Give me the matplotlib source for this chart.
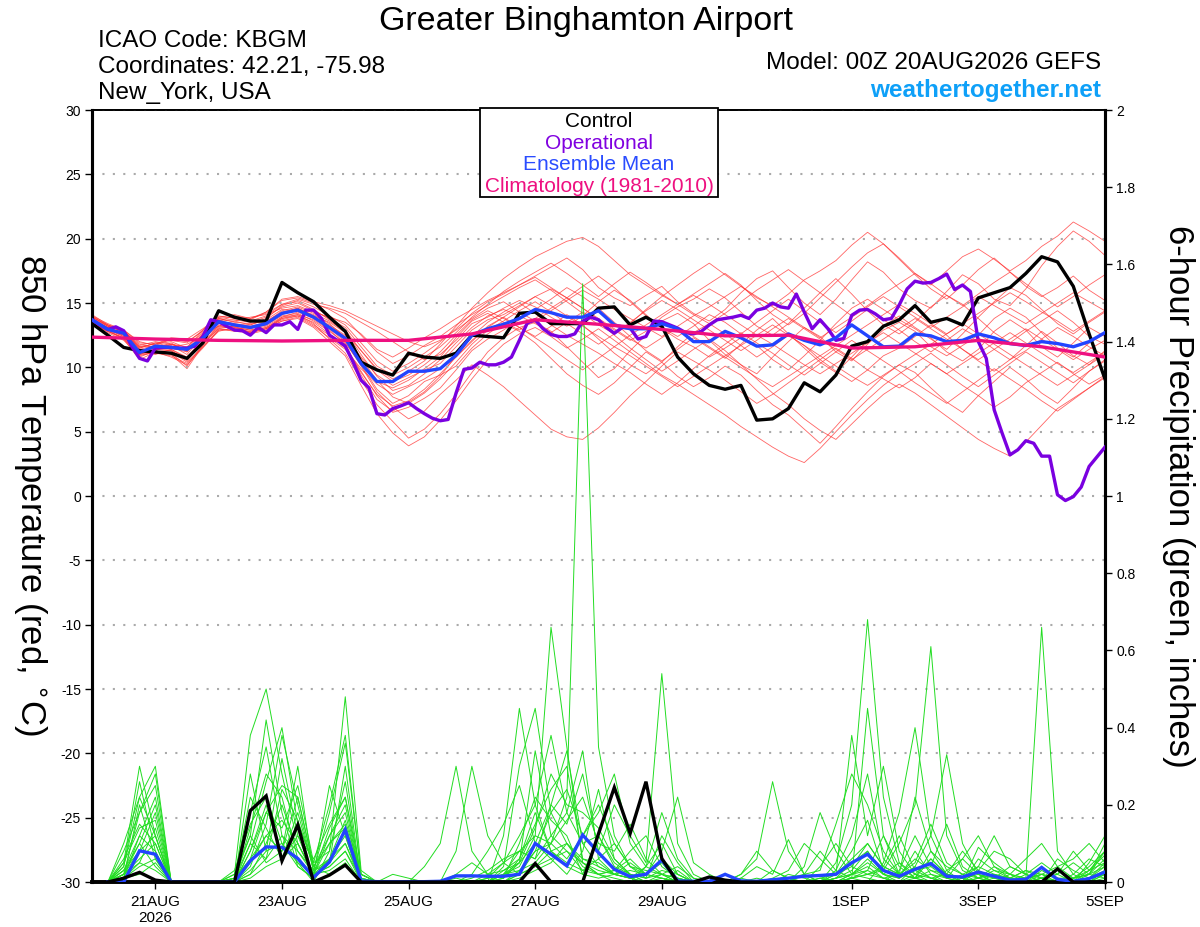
import numpy as np
import matplotlib
matplotlib.use("Agg")
import matplotlib.pyplot as plt
from matplotlib.patches import Rectangle

plt.rcParams['font.family'] = ['Liberation Sans', 'DejaVu Sans']
plt.rcParams['axes.unicode_minus'] = False

# forecast hours counted from 00Z 20AUG2026
hours_6h = np.arange(0, 385, 6)
hours_3h = np.arange(0, 385, 3)
precip_hours = np.arange(6, 385, 6)
clim_hours = np.arange(0, 385, 24)

tick_hours = [24, 72, 120, 168, 216, 288, 336, 384]
tick_labels = ['21AUG\n2026', '23AUG', '25AUG', '27AUG', '29AUG', '1SEP', '3SEP', '5SEP']

# 850 hPa temperature (C)
control_t = [13.4, 12.5, 11.55, 11.3, 11.2, 11.1, 10.7, 11.9, 14.4, 13.9, 13.6, 13.6, 16.6,
             15.8, 15.1, 13.9, 12.8, 10.4, 9.8, 9.4, 11.1, 10.8, 10.7, 11.1, 12.5, 12.4,
             12.3, 14.2, 14.3, 13.4, 13.4, 13.4, 14.6, 14.7, 13.3, 13.9, 13.2, 10.8, 9.5,
             8.6, 8.3, 8.6, 5.9, 6.0, 6.8, 8.8, 8.1, 9.4, 11.65, 12.0, 13.2, 13.7,
             14.8, 13.5, 13.8, 13.3, 15.4, 15.8, 16.2, 17.3, 18.6, 18.2, 16.3, 12.6, 9.1]

operational_t = [13.7, 13.3, 12.95, 13.15, 12.85, 11.65, 10.7, 10.5, 11.5, 11.55, 11.55, 11.5, 11.5,
                 11.65, 12.4, 13.7, 13.55, 13.2, 12.9, 12.85, 12.5, 13.1, 12.7, 13.3, 13.3, 13.55,
                 12.95, 14.45, 14.45, 13.8, 12.5, 12.1, 11.65, 10.4, 9.0, 8.4, 6.4, 6.3, 6.8,
                 7.0, 7.25, 6.8, 6.4, 6.05, 5.85,
                 5.95, 8.0, 9.85, 9.95, 10.4, 10.2, 10.2, 10.4, 10.8, 12.1, 13.45, 13.7, 13.0,
                 12.55, 12.4, 12.4, 12.6, 13.6, 13.9, 13.7, 13.1, 12.65, 13.1, 13.05, 12.2, 12.4,
                 13.6, 13.55, 13.3, 13.05, 12.7, 12.6, 12.8, 13.3, 13.7, 13.8, 13.9, 14.05, 13.8,
                 14.45, 14.6, 15.0,
                 14.7, 14.6, 15.7, 14.3, 13.0, 13.7, 13.0, 12.1, 12.25, 14.05, 14.45, 14.5, 14.15,
                 13.7, 13.8, 14.85, 16.1, 16.7, 16.55, 16.6, 16.9, 17.25, 16.05, 16.4, 15.9, 12.0,
                 10.7, 6.7, 4.9, 3.2, 3.6, 4.3, 4.1, 3.1, 3.1, 0.1, -0.35, -0.05, 0.7,
                 2.3, 3.05, 3.8]

ens_mean_t = [13.7, 12.95, 12.65, 11.15, 11.65, 11.55, 11.4, 12.25, 13.55, 13.3, 13.1, 13.4, 14.2,
              14.45, 13.9, 13.1, 12.25, 10.3, 8.9, 8.9, 9.7, 9.7, 9.9, 10.95, 12.5, 13.0,
              13.35, 13.8, 14.5, 14.25, 13.9, 13.9, 14.4, 13.3, 13.0, 13.0, 13.4, 13.0, 12.0,
              12.0, 12.8, 12.3, 11.65, 11.75, 12.6, 12.1, 11.75, 12.3, 13.3, 12.45, 11.6, 11.65,
              12.6, 12.45, 12.0, 12.1, 12.6, 12.3, 11.85, 11.7, 12.0, 11.85, 11.6, 12.0, 12.7]

clim_t = [12.35, 12.2, 12.1, 12.05, 12.1, 12.1, 12.6, 13.7, 13.35,
          12.95, 12.45, 12.5, 11.5, 11.6, 12.1, 11.6, 10.8]

members_t = [
    [13.9, 13.2, 12.8, 11.8, 11.5, 11.9, 11.2, 12.6, 13.2, 13.6, 13.9, 14.1, 14.6,
     14.8, 14.3, 13.9, 13.5, 12.6, 11.4, 10.8, 11.5, 12.3, 13.0, 13.8, 14.5, 15.2,
     15.8, 16.4, 17.1, 17.8, 18.5, 17.6, 16.2, 15.4, 14.8, 15.6, 16.3, 15.1, 14.2,
     13.6, 14.5, 15.8, 16.9, 17.5, 16.2, 15.0, 14.1, 15.3, 16.8, 18.2, 17.4, 16.1,
     15.2, 14.6, 15.9, 17.2, 16.5, 15.3, 14.8, 16.1, 17.9, 19.4, 20.6, 19.8, 18.7],
    [13.6, 12.7, 12.1, 10.9, 11.2, 10.8, 10.2, 11.5, 12.9, 13.0, 12.6, 12.9, 13.8,
     14.1, 13.4, 12.2, 11.1, 9.0, 7.1, 5.8, 4.5, 5.2, 6.4, 7.9, 9.6, 11.2,
     12.3, 13.1, 13.5, 12.8, 11.6, 10.4, 9.2, 9.9, 11.3, 12.5, 13.6, 14.2, 13.4,
     12.1, 11.0, 10.2, 9.5, 10.8, 12.0, 13.1, 12.4, 11.2, 10.5, 11.8, 12.9, 13.5,
     12.8, 11.6, 10.9, 11.7, 12.5, 13.8, 14.6, 13.9, 12.7, 11.5, 10.8, 11.9, 12.6],
    [14.0, 13.4, 12.9, 12.0, 11.7, 12.2, 12.0, 12.8, 13.6, 14.0, 13.8, 14.2, 14.9,
     15.3, 14.9, 14.6, 14.2, 13.5, 12.8, 12.0, 11.2, 10.6, 11.0, 12.1, 13.4, 13.9,
     14.6, 15.2, 14.7, 13.9, 13.2, 14.0, 15.1, 16.0, 15.2, 14.1, 13.0, 12.2, 11.6,
     10.8, 11.5, 12.3, 11.7, 10.6, 9.8, 10.9, 12.1, 13.4, 14.6, 15.3, 14.5, 13.7,
     13.0, 12.2, 11.4, 12.6, 13.9, 15.1, 16.2, 15.6, 14.5, 13.4, 12.6, 13.5, 14.3],
    [13.5, 12.9, 12.4, 11.3, 11.0, 11.4, 10.7, 11.9, 13.0, 13.2, 13.0, 13.3, 14.0,
     14.2, 13.6, 12.8, 11.9, 10.2, 8.3, 7.2, 7.8, 8.9, 9.4, 10.1, 11.5, 12.6,
     13.4, 12.8, 11.9, 10.7, 9.5, 8.6, 7.9, 8.8, 10.0, 11.2, 10.4, 9.3, 8.5,
     9.2, 10.1, 9.4, 8.2, 7.1, 6.3, 5.2, 4.1, 5.4, 6.8, 8.1, 9.3, 10.2,
     9.6, 8.4, 7.3, 6.5, 7.8, 8.9, 10.0, 9.1, 8.0, 7.2, 8.4, 9.7, 10.5],
    [13.8, 13.0, 12.6, 11.5, 11.9, 11.6, 11.8, 12.4, 13.8, 13.5, 13.4, 13.6, 14.3,
     14.6, 14.0, 13.2, 12.4, 10.8, 9.4, 8.6, 9.2, 9.8, 10.3, 11.6, 12.9, 13.7,
     14.1, 14.8, 15.5, 16.1, 15.4, 14.6, 13.7, 12.9, 12.1, 12.8, 13.9, 14.7, 15.3,
     16.1, 15.4, 14.3, 13.2, 12.5, 13.4, 14.6, 15.8, 16.9, 15.7, 14.4, 13.3, 12.6,
     13.5, 14.7, 15.6, 14.9, 13.8, 12.7, 11.9, 12.8, 13.6, 14.4, 13.5, 12.4, 11.8],
    [13.4, 12.8, 12.3, 10.8, 11.3, 11.0, 9.9, 11.7, 13.3, 12.9, 12.8, 13.1, 13.7,
     14.0, 13.5, 12.6, 11.6, 9.7, 7.8, 6.5, 6.9, 7.6, 8.4, 9.8, 11.3, 12.2,
     12.9, 13.7, 14.5, 15.3, 16.2, 15.5, 14.6, 13.5, 12.4, 11.3, 10.5, 11.4, 12.3,
     11.5, 10.7, 11.8, 12.9, 13.8, 12.6, 11.5, 10.4, 9.6, 10.8, 12.1, 13.2, 14.0,
     13.1, 12.3, 11.2, 10.5, 11.4, 12.8, 13.7, 12.9, 11.6, 10.8, 11.9, 13.1, 12.4],
    [14.1, 13.3, 12.7, 11.6, 11.8, 12.0, 11.5, 12.9, 14.0, 13.8, 13.6, 14.0, 14.9,
     15.1, 14.5, 13.7, 12.9, 11.3, 9.9, 9.1, 9.7, 10.5, 11.8, 13.2, 14.6, 15.8,
     16.9, 17.8, 18.6, 19.2, 19.8, 20.1, 19.4, 18.3, 17.2, 16.4, 15.6, 14.9, 15.7,
     16.5, 17.3, 16.4, 15.2, 14.1, 13.3, 14.2, 15.4, 16.6, 17.8, 18.9, 19.6, 18.4,
     17.2, 16.1, 15.3, 16.4, 17.6, 18.5, 17.4, 16.3, 15.5, 16.2, 17.1, 16.0, 15.2],
    [13.6, 12.9, 12.5, 11.0, 11.4, 11.3, 10.6, 12.1, 13.4, 13.1, 12.9, 13.2, 13.9,
     14.3, 13.8, 13.0, 12.0, 10.1, 8.1, 6.9, 6.0, 6.6, 7.9, 9.0, 10.2, 9.4,
     8.5, 7.4, 6.3, 5.2, 4.6, 4.4, 5.3, 6.5, 7.8, 8.9, 10.1, 11.2, 10.5,
     9.8, 9.0, 8.1, 7.2, 7.9, 8.8, 9.7, 10.6, 11.5, 10.7, 9.8, 9.1, 8.4,
     9.2, 10.3, 9.5, 8.6, 7.8, 6.9, 7.7, 8.8, 9.6, 10.4, 9.5, 8.7, 9.4],
    [13.7, 13.1, 12.7, 11.4, 11.7, 11.5, 11.2, 12.3, 13.5, 13.4, 13.2, 13.5, 14.4,
     14.7, 14.2, 13.6, 12.8, 11.0, 9.3, 8.2, 8.6, 9.5, 10.6, 11.9, 13.1, 14.0,
     14.5, 14.0, 13.4, 12.7, 13.5, 14.3, 13.6, 12.5, 11.5, 10.6, 9.7, 10.5, 11.4,
     12.2, 11.3, 10.2, 9.1, 8.0, 7.1, 6.0, 5.1, 4.4, 5.6, 6.8, 7.9, 8.7,
     8.0, 7.1, 6.2, 5.3, 4.4, 3.7, 3.1, 4.2, 5.5, 6.8, 7.6, 8.4, 9.3],
    [13.9, 13.3, 12.9, 11.9, 11.8, 12.3, 12.2, 13.0, 13.9, 14.1, 13.8, 14.3, 15.2,
     15.4, 15.0, 14.5, 13.8, 12.5, 11.2, 10.3, 10.9, 11.7, 12.4, 13.3, 14.1, 14.8,
     15.5, 16.2, 16.8, 16.0, 15.1, 14.2, 13.3, 12.6, 13.4, 14.5, 15.5, 16.4, 17.3,
     18.1, 17.2, 16.3, 15.4, 14.8, 15.7, 16.8, 17.5, 18.3, 19.5, 20.5, 19.6, 18.5,
     17.3, 16.4, 17.5, 18.6, 19.2, 18.4, 17.5, 18.3, 19.4, 20.2, 21.3, 20.6, 19.8],
    [13.5, 12.8, 12.3, 11.1, 11.1, 11.2, 10.4, 11.6, 12.8, 13.1, 12.9, 13.0, 13.6,
     13.9, 13.2, 12.3, 11.4, 9.9, 8.7, 7.9, 8.5, 9.1, 9.9, 10.8, 12.0, 13.2,
     13.9, 13.1, 12.4, 13.2, 14.1, 13.3, 12.2, 11.1, 10.2, 9.5, 10.4, 11.6, 12.7,
     13.4, 12.6, 11.7, 10.8, 11.6, 12.5, 11.7, 10.6, 9.7, 8.9, 9.8, 10.9, 11.5,
     12.4, 13.3, 12.5, 11.4, 10.5, 9.7, 10.6, 11.7, 12.8, 11.9, 10.9, 10.2, 11.3],
    [13.8, 13.1, 12.6, 11.2, 11.6, 11.7, 11.0, 12.5, 13.7, 13.3, 13.3, 13.7, 14.5,
     14.4, 13.9, 13.3, 12.5, 10.5, 8.9, 8.4, 9.0, 9.9, 10.8, 12.3, 13.6, 14.2,
     13.5, 12.9, 13.8, 14.6, 15.4, 16.3, 17.1, 16.2, 15.1, 14.0, 13.1, 12.4, 13.2,
     14.1, 13.5, 12.6, 13.5, 14.4, 15.3, 14.4, 13.5, 12.7, 13.6, 14.5, 13.7, 12.9,
     12.0, 11.2, 12.1, 13.0, 12.3, 11.4, 10.6, 11.3, 12.2, 13.1, 12.4, 11.6, 10.9],
    [13.6, 13.0, 12.4, 11.2, 11.4, 11.3, 10.5, 12.0, 13.1, 13.2, 12.7, 13.0, 13.6,
     13.8, 13.1, 12.0, 10.9, 8.6, 6.4, 4.9, 3.9, 4.6, 5.9, 7.4, 9.1, 10.6,
     11.8, 12.6, 13.1, 12.4, 11.5, 12.2, 13.0, 12.1, 11.2, 10.3, 9.4, 8.7, 7.9,
     7.1, 6.3, 5.4, 4.6, 3.8, 3.1, 2.6, 3.7, 5.0, 6.3, 7.5, 8.6, 9.5,
     10.3, 11.1, 10.2, 9.3, 8.5, 9.4, 10.3, 11.2, 10.4, 9.6, 8.8, 9.7, 10.6],
    [14.0, 13.2, 12.8, 11.7, 12.0, 11.8, 11.6, 12.7, 13.8, 13.7, 13.5, 13.9, 14.7,
     15.0, 14.4, 13.8, 13.1, 11.6, 10.1, 9.4, 10.0, 10.8, 11.6, 12.7, 13.9, 14.9,
     15.9, 16.7, 17.4, 18.1, 17.3, 16.4, 15.5, 16.5, 17.4, 16.6, 15.7, 14.9, 14.1,
     13.4, 14.2, 15.1, 16.0, 16.8, 17.6, 16.7, 15.8, 14.9, 14.0, 14.8, 15.7, 16.5,
     17.3, 16.5, 15.6, 14.8, 15.7, 16.6, 17.4, 16.5, 15.6, 14.7, 15.5, 16.4, 17.2],
    [13.5, 12.8, 12.2, 10.6, 11.2, 11.1, 10.1, 11.8, 13.0, 12.8, 12.7, 13.0, 13.9,
     14.1, 13.7, 12.9, 11.8, 9.4, 7.5, 6.6, 7.3, 8.1, 9.3, 10.9, 12.4, 13.5,
     14.3, 15.0, 14.2, 13.3, 12.5, 11.8, 11.1, 10.3, 9.6, 8.7, 7.9, 8.8, 9.9,
     10.9, 11.8, 12.7, 11.9, 11.1, 10.2, 9.4, 10.3, 11.2, 12.1, 11.3, 10.5, 9.7,
     8.8, 8.0, 7.2, 8.1, 9.0, 9.9, 9.1, 8.3, 7.4, 6.6, 7.5, 8.4, 9.2],
    [13.9, 13.3, 12.9, 11.5, 11.9, 12.1, 11.9, 12.9, 13.9, 13.9, 13.7, 14.3, 15.3,
     15.5, 15.1, 14.8, 14.4, 13.8, 13.2, 12.6, 12.0, 11.6, 12.1, 12.9, 13.8, 14.6,
     15.1, 14.3, 13.6, 14.4, 15.2, 16.0, 15.3, 14.5, 13.8, 13.1, 12.4, 13.2, 14.0,
     14.7, 15.5, 16.3, 15.5, 14.7, 13.9, 13.1, 12.3, 13.1, 13.9, 14.7, 15.5, 14.7,
     13.9, 13.1, 13.9, 14.7, 15.5, 14.8, 14.1, 13.4, 14.2, 15.0, 15.8, 15.1, 14.4],
    [13.7, 13.0, 12.5, 11.0, 11.5, 11.4, 10.8, 12.2, 13.2, 13.0, 13.1, 13.4, 14.1,
     14.5, 14.1, 13.4, 12.3, 10.7, 9.0, 7.7, 7.2, 8.0, 9.1, 10.4, 11.8, 12.9,
     13.6, 14.4, 15.1, 14.3, 13.4, 12.6, 11.8, 12.6, 13.5, 14.4, 15.2, 14.5, 13.7,
     12.9, 12.1, 11.3, 12.1, 13.0, 13.8, 13.0, 12.2, 11.4, 10.6, 11.4, 12.2, 13.0,
     13.8, 13.0, 12.2, 11.4, 10.6, 11.4, 12.2, 13.0, 12.2, 11.4, 10.6, 11.4, 12.1],
    [13.6, 13.0, 12.7, 11.4, 11.3, 11.8, 11.3, 12.4, 13.5, 13.3, 13.1, 13.3, 14.2,
     14.6, 14.0, 13.5, 12.7, 11.3, 9.8, 8.9, 9.4, 10.2, 11.2, 12.5, 13.7, 14.4,
     13.8, 13.1, 12.3, 11.5, 10.6, 9.8, 10.7, 11.6, 12.5, 13.3, 14.1, 14.9, 15.6,
     14.9, 14.1, 13.3, 12.5, 11.8, 11.0, 10.2, 9.5, 10.3, 11.1, 11.9, 12.7, 11.9,
     11.1, 10.3, 9.5, 10.3, 11.1, 11.9, 12.7, 11.9, 11.1, 10.3, 9.6, 10.4, 11.2],
    [13.8, 13.2, 12.8, 11.6, 11.6, 11.8, 11.4, 12.6, 13.7, 13.6, 13.3, 13.8, 14.8,
     15.2, 14.7, 14.0, 13.3, 11.9, 10.5, 9.7, 10.3, 11.1, 12.0, 13.0, 14.2, 15.1,
     15.7, 16.4, 17.0, 16.2, 15.4, 14.6, 13.8, 13.0, 12.2, 11.5, 12.3, 13.1, 12.4,
     11.6, 10.8, 10.0, 9.2, 8.5, 9.3, 10.1, 10.9, 11.7, 12.5, 13.3, 14.1, 14.9,
     14.2, 13.4, 12.6, 13.4, 14.2, 15.0, 15.8, 15.1, 14.3, 13.6, 12.8, 13.6, 14.4],
    [13.5, 12.9, 12.2, 11.0, 11.1, 10.9, 10.3, 11.6, 12.9, 12.9, 12.8, 13.1, 13.8,
     14.0, 13.3, 12.5, 11.5, 9.6, 7.9, 7.0, 7.4, 8.3, 9.5, 10.8, 12.1, 13.1,
     13.9, 14.7, 15.5, 14.8, 14.0, 13.2, 12.4, 11.6, 10.9, 10.1, 9.3, 8.5, 9.3,
     10.1, 10.9, 11.7, 12.5, 13.3, 12.5, 11.7, 10.9, 10.1, 9.3, 8.6, 9.4, 10.2,
     11.0, 11.8, 12.6, 13.4, 12.6, 11.8, 11.0, 10.2, 9.4, 8.6, 9.4, 10.2, 11.0],
]

# 6-hour precipitation (inches), periods ending 06Z 20AUG .. 00Z 5SEP
control_p = [0, 0.01, 0.025, 0.005, 0, 0, 0, 0, 0, 0.185, 0.223, 0.055, 0.148, 0, 0.018, 0.044,
             0, 0, 0, 0, 0, 0, 0, 0, 0, 0, 0, 0.048, 0, 0, 0, 0.125,
             0.245, 0.126, 0.26, 0.061, 0, 0, 0.013, 0.005, 0, 0, 0, 0, 0, 0, 0, 0,
             0, 0, 0, 0, 0, 0, 0, 0, 0, 0, 0, 0, 0.034, 0, 0, 0]

ens_mean_p = [0, 0, 0.081, 0.072, 0, 0, 0, 0, 0, 0.055, 0.091, 0.09, 0.061, 0.012, 0.052, 0.136,
              0.003, 0.001, 0.001, 0.001, 0.001, 0.002, 0.016, 0.016, 0.015, 0.015, 0.02, 0.1, 0.072, 0.042, 0.122, 0.076,
              0.033, 0.014, 0.02, 0.057, 0.003, 0.002, 0.002, 0.02, 0.003, 0.002, 0.006, 0.01, 0.015, 0.017, 0.02, 0.05,
              0.072, 0.03, 0.015, 0.033, 0.048, 0.015, 0.013, 0.026, 0.015, 0.005, 0.007, 0.038, 0.007, 0.002, 0.009, 0.026]

members_p = [
    [0, 0.05, 0.30, 0.12, 0, 0, 0, 0, 0, 0.18, 0.35, 0.12, 0.05, 0, 0.08, 0.48,
     0.03, 0, 0, 0, 0, 0, 0.01, 0, 0, 0.02, 0.08, 0.12, 0.66, 0.35, 0.05, 0.02,
     0, 0, 0.04, 0.10, 0.02, 0, 0, 0, 0, 0, 0.03, 0.01, 0, 0, 0.05, 0.20,
     0.68, 0.22, 0.05, 0.02, 0, 0, 0, 0.01, 0.04, 0.02, 0, 0, 0, 0, 0.05, 0.12],
    [0, 0.10, 0.22, 0.30, 0, 0, 0, 0, 0.02, 0.38, 0.50, 0.28, 0.10, 0.02, 0.12, 0.20,
     0, 0, 0, 0, 0, 0, 0, 0, 0, 0, 0.03, 0.05, 0.10, 0.22, 1.55, 0.35,
     0.12, 0.04, 0.02, 0.05, 0, 0, 0, 0, 0, 0, 0, 0, 0.02, 0.08, 0.03, 0.01,
     0, 0.05, 0.18, 0.40, 0.12, 0.03, 0, 0, 0, 0, 0, 0.02, 0, 0, 0, 0.02],
    [0, 0.02, 0.18, 0.25, 0, 0, 0, 0, 0, 0.10, 0.26, 0.40, 0.15, 0.05, 0.20, 0.38,
     0.02, 0, 0, 0, 0.04, 0.10, 0.30, 0.08, 0.02, 0.01, 0.05, 0.34, 0.12, 0.08, 0.03, 0.06,
     0.10, 0.04, 0.01, 0.02, 0, 0, 0, 0, 0.02, 0.06, 0.26, 0.08, 0.02, 0, 0.01, 0.03,
     0.08, 0.02, 0, 0.04, 0.12, 0.33, 0.10, 0.02, 0, 0, 0, 0.01, 0, 0.02, 0.06, 0.04],
    [0, 0.04, 0.26, 0.08, 0, 0, 0, 0, 0.01, 0.22, 0.14, 0.06, 0.18, 0.03, 0.05, 0.30,
     0, 0, 0, 0, 0, 0, 0, 0, 0, 0.02, 0.05, 0.10, 0.20, 0.15, 0.28, 0.08,
     0.20, 0.12, 0.05, 0.54, 0.10, 0.02, 0, 0, 0, 0, 0, 0, 0, 0, 0.02, 0.06,
     0.10, 0.04, 0.02, 0.01, 0.06, 0.02, 0, 0.09, 0.05, 0.02, 0.01, 0.66, 0.08, 0.02, 0, 0.03],
    [0, 0.01, 0.12, 0.22, 0, 0, 0, 0, 0, 0.08, 0.18, 0.25, 0.22, 0.04, 0.10, 0.15,
     0.01, 0, 0.02, 0.01, 0, 0, 0, 0, 0, 0.04, 0.30, 0.45, 0.18, 0.10, 0.05, 0.02,
     0.03, 0.08, 0.12, 0.04, 0.01, 0, 0, 0.02, 0, 0, 0, 0, 0, 0.04, 0.10, 0.04,
     0.02, 0.03, 0.10, 0.20, 0.61, 0.12, 0.03, 0.01, 0, 0.01, 0.03, 0.01, 0, 0, 0.02, 0.10],
    [0, 0.03, 0.08, 0.18, 0, 0, 0, 0, 0.03, 0.15, 0.22, 0.10, 0.05, 0.02, 0.25, 0.12,
     0, 0, 0, 0, 0, 0, 0, 0, 0.01, 0.05, 0.12, 0.20, 0.38, 0.18, 0.10, 0.12,
     0.05, 0.02, 0.01, 0.12, 0.05, 0, 0, 0, 0.01, 0, 0, 0, 0, 0, 0, 0.02,
     0.06, 0.02, 0.01, 0.08, 0.02, 0, 0, 0.03, 0.08, 0.06, 0.02, 0.01, 0.02, 0.08, 0.03, 0.05],
    [0, 0.06, 0.15, 0.10, 0, 0, 0, 0, 0, 0.28, 0.08, 0.32, 0.12, 0.06, 0.15, 0.22,
     0.02, 0, 0, 0, 0, 0, 0, 0.02, 0.08, 0.15, 0.25, 0.10, 0.06, 0.02, 0.08, 0.24,
     0.06, 0.02, 0, 0, 0, 0, 0, 0, 0.01, 0.04, 0.02, 0.11, 0.02, 0, 0, 0.01,
     0.45, 0.12, 0.02, 0.01, 0, 0.03, 0.06, 0.02, 0, 0, 0.02, 0.05, 0.02, 0, 0.03, 0.08],
    [0, 0.02, 0.05, 0.14, 0, 0, 0, 0, 0, 0.05, 0.12, 0.08, 0.30, 0.02, 0.04, 0.08,
     0, 0, 0, 0, 0, 0, 0, 0, 0, 0.12, 0.45, 0.20, 0.08, 0.10, 0.04, 0.02,
     0.03, 0.06, 0.02, 0.08, 0.22, 0.05, 0.02, 0, 0, 0, 0, 0, 0.04, 0.18, 0.08, 0.02,
     0.01, 0, 0.03, 0.12, 0.04, 0.01, 0.06, 0.12, 0.04, 0.01, 0, 0, 0, 0, 0.01, 0.05],
    [0, 0.01, 0.20, 0.06, 0, 0, 0, 0, 0.02, 0.12, 0.42, 0.18, 0.04, 0.01, 0.06, 0.10,
     0.01, 0, 0, 0, 0, 0, 0, 0, 0.02, 0.03, 0.06, 0.15, 0.24, 0.30, 0.06, 0.05,
     0.02, 0.01, 0, 0, 0.03, 0, 0, 0, 0, 0, 0.01, 0.03, 0.10, 0.06, 0.02, 0.38,
     0.12, 0.30, 0.08, 0.02, 0.01, 0, 0.01, 0.04, 0.12, 0.04, 0.02, 0, 0, 0.01, 0.04, 0.08],
    [0, 0.08, 0.18, 0.28, 0, 0, 0, 0, 0, 0.02, 0.10, 0.20, 0.08, 0.03, 0.18, 0.36,
     0.02, 0, 0, 0, 0, 0, 0.02, 0.05, 0.02, 0.05, 0.08, 0.06, 0.20, 0.34, 0.10, 0.04,
     0.02, 0.03, 0.02, 0.01, 0, 0, 0, 0, 0, 0, 0, 0.01, 0.02, 0.03, 0.15, 0.28,
     0.20, 0.08, 0.02, 0.01, 0.03, 0.02, 0.01, 0, 0, 0.02, 0.06, 0.10, 0.04, 0.01, 0.02, 0.04],
    [0, 0.03, 0.10, 0.20, 0, 0, 0, 0, 0.01, 0.06, 0.18, 0.14, 0.25, 0.05, 0.08, 0.26,
     0, 0, 0, 0, 0, 0, 0, 0, 0, 0, 0.02, 0.08, 0.18, 0.24, 0.12, 0.18,
     0.28, 0.10, 0.04, 0.02, 0, 0, 0, 0, 0.02, 0.08, 0.03, 0.01, 0, 0, 0.01, 0.02,
     0.03, 0.12, 0.04, 0.01, 0.08, 0.04, 0.02, 0.01, 0.03, 0.02, 0.01, 0.02, 0.04, 0.06, 0.10, 0.05],
    [0, 0.05, 0.14, 0.16, 0, 0, 0, 0, 0.01, 0.10, 0.06, 0.24, 0.16, 0.04, 0.12, 0.18,
     0, 0, 0, 0, 0, 0, 0, 0, 0, 0.02, 0.04, 0.12, 0.10, 0.16, 0.22, 0.10,
     0.08, 0.15, 0.06, 0.02, 0.01, 0, 0, 0, 0, 0, 0, 0, 0, 0, 0.03, 0.12,
     0.28, 0.06, 0.02, 0.05, 0.15, 0.05, 0.02, 0, 0.01, 0.04, 0.02, 0, 0.01, 0.01, 0.02, 0.08],
    [0, 0.02, 0.06, 0.10, 0, 0, 0, 0, 0, 0.14, 0.28, 0.22, 0.06, 0.02, 0.10, 0.14,
     0, 0, 0, 0, 0, 0, 0, 0, 0, 0.01, 0.10, 0.22, 0.16, 0.12, 0.02, 0.01,
     0.02, 0.01, 0.04, 0.18, 0.06, 0.01, 0, 0, 0, 0, 0, 0, 0, 0, 0, 0.02,
     0.04, 0.01, 0.02, 0.22, 0.08, 0.02, 0.01, 0.02, 0.01, 0, 0, 0.03, 0.01, 0, 0.01, 0.03],
    [0, 0.04, 0.22, 0.12, 0, 0, 0, 0, 0, 0.04, 0.15, 0.38, 0.20, 0.03, 0.06, 0.12,
     0, 0, 0, 0, 0, 0, 0, 0, 0, 0.03, 0.05, 0.14, 0.28, 0.20, 0.18, 0.14,
     0.06, 0.02, 0.01, 0.03, 0.02, 0, 0, 0, 0, 0, 0, 0, 0, 0.01, 0.02, 0.08,
     0.16, 0.03, 0.01, 0.03, 0.04, 0.15, 0.04, 0.01, 0, 0.01, 0.01, 0.02, 0.01, 0, 0, 0.02],
    [0, 0.03, 0.12, 0.08, 0, 0, 0, 0, 0, 0.08, 0.20, 0.06, 0.12, 0.02, 0.14, 0.22,
     0, 0, 0, 0, 0, 0, 0, 0.01, 0.03, 0.06, 0.08, 0.06, 0.12, 0.18, 0.34, 0.06,
     0.02, 0.01, 0.02, 0.06, 0.02, 0, 0, 0, 0, 0, 0, 0.02, 0.01, 0, 0.02, 0.04,
     0.10, 0.04, 0.02, 0.06, 0.03, 0.01, 0, 0.06, 0.03, 0.01, 0, 0.01, 0.03, 0.01, 0.02, 0.06],
    [0, 0.02, 0.08, 0.12, 0, 0, 0, 0, 0, 0.06, 0.12, 0.16, 0.10, 0.02, 0.03, 0.06,
     0, 0, 0, 0, 0, 0, 0, 0, 0.01, 0.02, 0.03, 0.08, 0.10, 0.06, 0.12, 0.20,
     0.10, 0.04, 0.03, 0.02, 0.04, 0.01, 0, 0, 0, 0.01, 0, 0, 0, 0.01, 0, 0.01,
     0.02, 0.04, 0.12, 0.03, 0.01, 0.02, 0.08, 0.03, 0.01, 0, 0, 0, 0.06, 0.03, 0.01, 0.04],
    [0, 0.01, 0.04, 0.06, 0, 0, 0, 0, 0, 0.03, 0.08, 0.10, 0.04, 0.01, 0.05, 0.10,
     0, 0, 0, 0, 0, 0, 0, 0, 0, 0, 0.02, 0.04, 0.06, 0.08, 0.05, 0.03,
     0.02, 0.01, 0, 0.01, 0, 0, 0, 0, 0, 0, 0, 0, 0, 0, 0, 0.01,
     0.03, 0.01, 0, 0.01, 0.02, 0.01, 0, 0.01, 0.02, 0.01, 0, 0, 0, 0, 0, 0.01],
    [0, 0.02, 0.10, 0.04, 0, 0, 0, 0, 0.01, 0.12, 0.05, 0.08, 0.22, 0.04, 0.02, 0.05,
     0, 0, 0, 0, 0, 0, 0, 0, 0, 0.01, 0.06, 0.18, 0.08, 0.04, 0.02, 0.12,
     0.04, 0.02, 0, 0, 0.01, 0, 0, 0, 0, 0, 0, 0, 0, 0, 0.01, 0.05,
     0.08, 0.02, 0.05, 0.01, 0, 0, 0.02, 0.04, 0.02, 0, 0, 0.01, 0.02, 0.05, 0.02, 0.01],
    [0, 0.01, 0.05, 0.03, 0, 0, 0, 0, 0, 0.02, 0.06, 0.12, 0.08, 0.02, 0.04, 0.08,
     0.01, 0, 0, 0, 0, 0, 0.08, 0.30, 0.12, 0.05, 0.02, 0.04, 0.08, 0.05, 0.03, 0.02,
     0.01, 0, 0, 0.02, 0.01, 0, 0, 0, 0, 0, 0, 0, 0, 0, 0, 0.01,
     0.02, 0.01, 0, 0.02, 0.06, 0.02, 0.01, 0, 0, 0.01, 0.03, 0.02, 0.01, 0, 0.01, 0.02],
    [0, 0.01, 0.02, 0.05, 0, 0, 0, 0, 0, 0.01, 0.04, 0.06, 0.10, 0.02, 0.06, 0.16,
     0.02, 0, 0, 0, 0, 0, 0, 0, 0, 0, 0.01, 0.03, 0.05, 0.10, 0.06, 0.04,
     0.02, 0.05, 0.02, 0.01, 0, 0, 0, 0, 0, 0, 0, 0, 0, 0, 0.01, 0.02,
     0.05, 0.02, 0.01, 0.04, 0.01, 0, 0, 0, 0.02, 0.01, 0, 0, 0, 0.01, 0.03, 0.07],
]

c_control = '#000000'
c_oper = '#7a00e0'
c_mean = '#2244ff'
c_clim = '#ee1080'
c_member_t = '#ff3030'
c_member_p = '#22dd22'

fig = plt.figure(figsize=(12, 9.27), dpi=100)
ax = fig.add_axes([0.0767, 0.0485, 0.8441, 0.8328])
ax2 = ax.twinx()
ax.set_zorder(ax2.get_zorder() + 1)
ax.patch.set_visible(False)

ax.set_xlim(0, 384)
ax.set_ylim(-30, 30)
ax2.set_ylim(0, 2)

# temperature ensemble members (bottom layer)
for m in members_t:
    ax.plot(hours_6h, m, color=c_member_t, lw=0.6, alpha=0.75, zorder=1)

# precipitation, drawn into the temperature axes through the precip scale
p_trans = ax2.transData
for m in members_p:
    ax.plot(precip_hours, m, color=c_member_p, lw=0.7, zorder=2, transform=p_trans)
ax.plot(precip_hours, ens_mean_p, color=c_mean, lw=2.4, zorder=3, transform=p_trans,
        solid_joinstyle='miter')
ax.plot(precip_hours, control_p, color=c_control, lw=2.4, zorder=3.5, transform=p_trans,
        solid_joinstyle='miter')

# temperature main lines
ax.plot(hours_6h, control_t, color=c_control, lw=2.4, zorder=4)
ax.plot(hours_3h, operational_t, color=c_oper, lw=2.4, zorder=5)
ax.plot(hours_6h, ens_mean_t, color=c_mean, lw=2.4, zorder=6)
ax.plot(clim_hours, clim_t, color=c_clim, lw=2.4, zorder=7)

ax.set_xlim(0, 384)
ax.set_ylim(-30, 30)

# axes styling
ax.set_yticks(np.arange(-30, 31, 5))
ax.set_xticks(tick_hours)
ax.set_xticklabels(tick_labels)
ax.grid(axis='y', color='#aaaaaa', linestyle=(0, (1, 4)), lw=1.5)
ax.tick_params(axis='y', direction='out', length=5, width=1, labelsize=10, pad=3)
ax.tick_params(axis='x', direction='out', length=5, width=1, labelsize=11, pad=4)
ax2.set_yticks(np.arange(0, 2.01, 0.2))
ax2.set_yticklabels(['%g' % round(v, 1) for v in np.arange(0, 2.01, 0.2)])
ax2.tick_params(axis='y', direction='out', length=5, width=1, labelsize=10, pad=3)

for a in (ax, ax2):
    a.spines['left'].set_linewidth(2.2)
    a.spines['right'].set_linewidth(2.2)
    a.spines['bottom'].set_linewidth(2.6)
    a.spines['top'].set_linewidth(1.3)

# header texts
fig.text(0.4883, 0.977, 'Greater Binghamton Airport', ha='center', va='center', fontsize=24.5)
fig.text(0.0817, 0.9555, 'ICAO Code: KBGM', ha='left', va='center', fontsize=17.5)
fig.text(0.0817, 0.9275, 'Coordinates: 42.21, -75.98', ha='left', va='center', fontsize=17.5)
fig.text(0.0817, 0.8995, 'New_York, USA', ha='left', va='center', fontsize=17.5)
fig.text(0.9175, 0.9318, 'Model: 00Z 20AUG2026 GEFS', ha='right', va='center', fontsize=17.5)
fig.text(0.9175, 0.9027, 'weathertogether.net', ha='right', va='center', fontsize=17.5,
         fontweight='bold', color='#0ea0f8')

# axis titles
fig.text(0.025, 0.466, '850 hPa Temperature (red, $^{\\circ}$C)', rotation=270,
         ha='center', va='center', fontsize=25)
fig.text(0.9817, 0.464, '6-hour Precipitation (green, inches)', rotation=270,
         ha='center', va='center', fontsize=25)

# legend box
fig.patches.append(Rectangle((0.400, 0.7875), 0.198, 0.096, transform=fig.transFigure,
                             facecolor='white', edgecolor='black', lw=1.3, zorder=10))
legend_items = [('Control', c_control), ('Operational', '#8000e0'),
                ('Ensemble Mean', '#2a4cff'), ('Climatology (1981-2010)', c_clim)]
for n, (label, col) in enumerate(legend_items):
    fig.text(0.4992, 0.8685 - n * 0.0232, label, ha='center', va='center',
             fontsize=15, color=col, zorder=11)

fig.savefig('out.png', dpi=100)
